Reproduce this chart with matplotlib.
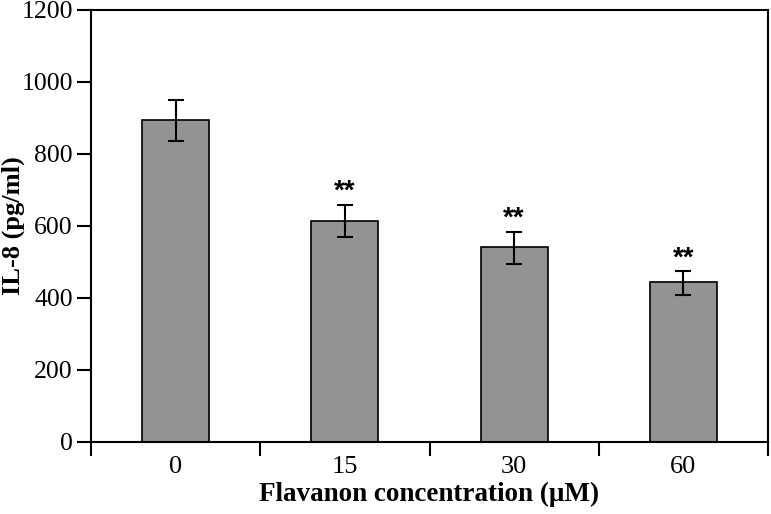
import matplotlib.pyplot as plt
import numpy as np

# Values
categories = ["0", "15", "30", "60"]
il8_mean = [894, 614, 542, 444]
il8_err_hi = [949, 658, 584, 474]
il8_err_lo = [836, 569, 494, 408]
stars = ["", "**", "**", "**"]
y_ticks = [0, 200, 400, 600, 800, 1000, 1200]

plt.rcParams["font.family"] = ["Liberation Serif", "DejaVu Serif"]

fig = plt.figure(figsize=(7.71, 5.14), dpi=100)
ax = fig.add_axes([91 / 771, 72 / 514, 677 / 771, 432 / 514])

x = np.arange(len(categories))
mean = np.array(il8_mean)
yerr = np.array([mean - np.array(il8_err_lo), np.array(il8_err_hi) - mean])

ax.bar(x, mean, width=0.395, color="#939393", edgecolor="black", linewidth=1.2, zorder=2)
ax.errorbar(x, mean, yerr=yerr, fmt="none", ecolor="black", elinewidth=1.5,
            capsize=6, capthick=1.5, zorder=3)

for xi, top, s in zip(x, il8_err_hi, stars):
    if s:
        ax.text(xi, top, s, ha="center", va="bottom", fontsize=20,
                fontweight="bold", family=["Liberation Sans", "DejaVu Sans"])

ax.set_xlim(-0.5, len(categories) - 0.5)
ax.set_ylim(0, 1200)
ax.set_yticks(y_ticks)
ax.set_xticks(x)
ax.set_xticklabels(categories)
ax.set_xticks(np.arange(len(categories) + 1) - 0.5, minor=True)
ax.tick_params(axis="x", which="major", length=0, pad=10, labelsize=19)
ax.tick_params(axis="x", which="minor", length=10, width=1.5, direction="out")
ax.tick_params(axis="y", length=10, width=1.5, direction="out", labelsize=18.5, pad=3)

for side in ["left", "right", "top", "bottom"]:
    ax.spines[side].set_linewidth(1.5)

ax.set_ylabel("IL-8 (pg/ml)", fontsize=19, fontweight="bold")
ax.yaxis.set_label_coords((19.5 - 91) / 677, 0.5)
ax.yaxis.label.set_verticalalignment("baseline")
ax.set_xlabel("Flavanon concentration (\u03bcM)", fontsize=19.5, fontweight="bold")
ax.xaxis.set_label_coords(0.5, (442 - 501) / 432)
ax.xaxis.label.set_verticalalignment("baseline")

fig.savefig("out.png", dpi=100)
